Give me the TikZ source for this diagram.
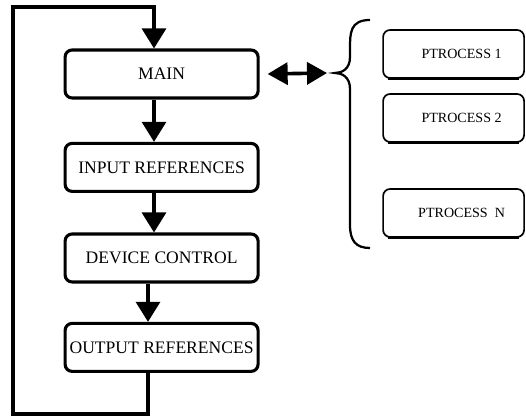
\documentclass[tikz,border=0pt]{standalone}
\usepackage{fontspec}
\setmainfont{Liberation Serif}
\usetikzlibrary{arrows.meta}
\tikzset{
  stage/.style={draw, line width=2.2pt, rounded corners=5pt, minimum width=4.825cm,
    minimum height=1.2cm, inner sep=0pt, font=\fontsize{12.5}{15}\selectfont},
  task/.style={draw, line width=1.2pt, rounded corners=5pt, minimum width=3.525cm,
    minimum height=1.2cm, inner sep=0pt, font=\fontsize{10}{12}\selectfont},
  flow/.style={line width=2.2pt, -{Triangle[width=0.6cm,length=0.5cm]}},
}
\begin{document}
\begin{tikzpicture}
\useasboundingbox (0,0) rectangle (13.15,10.425);
%\draw[step=1cm,gray,very thin] (0,0) grid (13,10);
% main loop
\node[stage] (main) at (4.04,8.575) {MAIN};
\node[stage] (input) at (4.04,6.24) {INPUT REFERENCES};
\node[stage] (device) at (4.04,3.975) {DEVICE CONTROL};
\node[stage] (output) at (4.04,1.74) {OUTPUT REFERENCES};
\coordinate (spine) at (3.85,0);
\coordinate (back) at (3.7,0);
\coordinate (lowleft) at (0.325,0.075);
\coordinate (upleft) at (0.325,10.25);
\draw[flow] (main.south -| spine) -- (input.north -| spine);
\draw[flow] (input.south -| spine) -- (device.north -| spine);
\draw[flow] (device.south -| back) -- (output.north -| back);
\draw[flow] (output.south -| back) |- (lowleft) -- (upleft) -| (main.north -| spine);
% processes
\node[task] (p1) at (11.34,9.075) {\hspace{0.4cm}PTROCESS 1};
\node[task] (p2) at (11.34,7.475) {\hspace{0.4cm}PTROCESS 2};
\node[task] (pn) at (11.34,5.1) {\hspace{0.4cm}PTROCESS\ \ N};
\draw[line width=2pt] (p1.south west) ++(0.15,0) -- ([xshift=-0.15cm]p1.south east);
\draw[line width=2pt] (p2.south west) ++(0.15,0) -- ([xshift=-0.15cm]p2.south east);
\draw[line width=2pt] (pn.south west) ++(0.15,0) -- ([xshift=-0.15cm]pn.south east);
% brace
\coordinate (tip) at (8.375,8.6);
\draw[line width=1.6pt] (9.25,9.925) .. controls (8.75,9.925) and (8.75,9.6) .. (8.75,9.2)
  -- (8.75,9.0) .. controls (8.75,8.7) and (8.55,8.6) .. (tip)
  .. controls (8.55,8.6) and (8.75,8.5) .. (8.75,8.2)
  -- (8.75,4.8) .. controls (8.75,4.4) and (8.9,4.225) .. (9.25,4.225);
\draw[line width=2.6pt, {Triangle[width=0.55cm,length=0.5cm]}-{Triangle[width=0.55cm,length=0.5cm]}]
  ([xshift=0.2cm]main.east) -- ([xshift=-0.2cm]tip);
\end{tikzpicture}
\end{document}
